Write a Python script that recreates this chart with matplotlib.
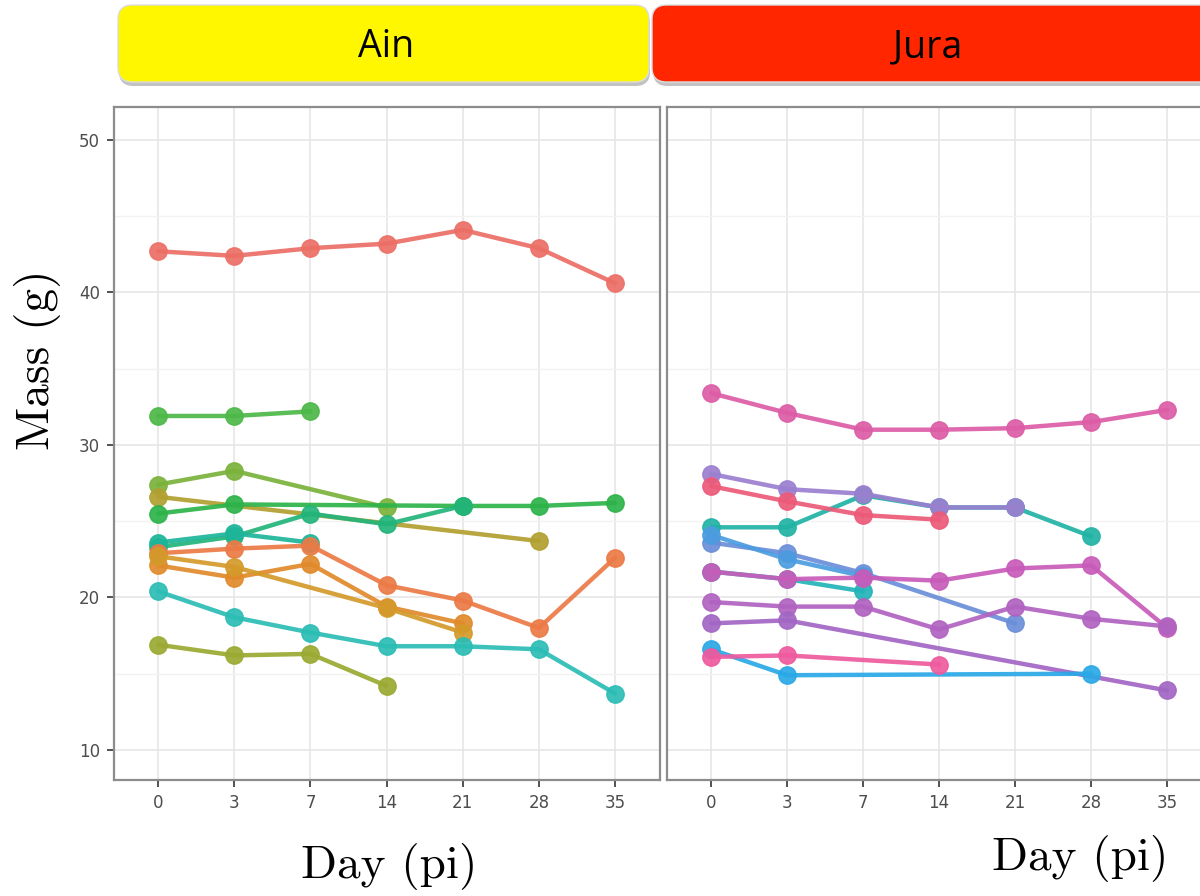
import numpy as np
import matplotlib
matplotlib.use("Agg")
from matplotlib import pyplot as plt
from matplotlib.patches import FancyBboxPatch

nan = np.nan

# categories on the x axis (days post infection)
days = ["0", "3", "7", "14", "21", "28", "35"]

# Ain panel: one list per animal, nan where not weighed
ain_series = [
    [42.7, 42.4, 42.9, 43.2, 44.1, 42.9, 40.6],
    [31.9, 31.9, 32.2, nan, nan, nan, nan],
    [27.4, 28.3, nan, 25.9, nan, nan, nan],
    [26.6, nan, nan, nan, nan, 23.7, nan],
    [25.5, 26.1, nan, nan, 26.0, 26.0, 26.2],
    [23.3, 24.0, 25.5, 24.8, 26.0, nan, nan],
    [23.6, 24.2, 23.6, nan, nan, nan, nan],
    [22.9, 23.2, 23.4, 20.8, 19.8, 18.0, 22.6],
    [22.1, 21.3, 22.2, 19.4, 18.3, nan, nan],
    [22.7, 22.0, nan, 19.3, 17.7, nan, nan],
    [20.4, 18.7, 17.7, 16.8, 16.8, 16.6, 13.7],
    [16.9, 16.2, 16.3, 14.2, nan, nan, nan],
]
ain_colors = ["#EC6F66", "#4DB848", "#7AB23A", "#B2A030", "#2DB34A", "#22B47A",
              "#1DB59A", "#EB7A45", "#E08A2A", "#D49A2A", "#2BBDB5", "#9AAA32"]

# Jura panel
jura_series = [
    [33.4, 32.1, 31.0, 31.0, 31.1, 31.5, 32.3],
    [24.6, 24.6, 26.7, 25.9, 25.9, 24.0, nan],
    [28.1, 27.1, 26.8, 25.9, 25.9, nan, nan],
    [27.3, 26.3, 25.4, 25.1, nan, nan, nan],
    [21.7, 21.2, 20.4, nan, nan, nan, nan],
    [23.6, 22.9, 21.6, nan, 18.3, nan, nan],
    [24.1, 22.5, 21.4, nan, nan, nan, nan],
    [21.7, 21.2, 21.3, 21.1, 21.9, 22.1, 18.0],
    [19.7, 19.4, 19.4, 17.9, 19.4, 18.6, 18.1],
    [18.3, 18.5, nan, nan, nan, nan, 13.9],
    [16.6, 14.9, nan, nan, nan, 15.0, nan],
    [16.1, 16.2, nan, 15.6, nan, nan, nan],
]
jura_colors = ["#DD5CA6", "#21B3A5", "#9B7FD0", "#EC5A78", "#22B3B8", "#6A8ED8",
               "#4C9CE0", "#C85BB9", "#B063C0", "#A266C4", "#2AA8E6", "#EE5A9E"]

panels = ["Ain", "Jura"]
panel_colors = ["#FFF700", "#FF2600"]

fig = plt.figure(figsize=(12, 8.96), dpi=100)

ax_left = fig.add_axes([114 / 1200, 116 / 896, 546 / 1200, 673 / 896])
ax_right = fig.add_axes([667 / 1200, 116 / 896, 545 / 1200, 673 / 896])

x = np.arange(len(days))
tick_font = ["Liberation Sans Narrow", "DejaVu Sans"]


def draw_panel(ax, series, colors):
    for vals, col in zip(series, colors):
        vals = np.array(vals, dtype=float)
        ok = ~np.isnan(vals)
        ax.plot(x[ok], vals[ok], color=col, lw=3.2, marker="o", ms=12.5,
                alpha=0.92, solid_capstyle="round")
    ax.set_xlim(-0.58, 6.59)
    ax.set_ylim(8.03, 52.16)
    ax.set_xticks(x)
    ax.set_xticklabels(days, family=tick_font)
    ax.set_yticks([10, 20, 30, 40, 50])
    ax.set_yticklabels(["10", "20", "30", "40", "50"], family=tick_font)
    ax.set_yticks([15, 25, 35, 45], minor=True)
    ax.grid(True, which="major", color="#E6E6E6", lw=1.2)
    ax.grid(True, which="minor", axis="y", color="#F2F2F2", lw=1.0)
    ax.set_axisbelow(True)
    for s in ax.spines.values():
        s.set_color("#8C8C8C")
        s.set_linewidth(1.6)
    ax.tick_params(axis="both", which="major", length=5, width=1.3,
                   color="#444444", labelcolor="#4D4D4D", labelsize=12, pad=5)
    ax.tick_params(axis="y", which="minor", length=0)


draw_panel(ax_left, ain_series, ain_colors)
draw_panel(ax_right, jura_series, jura_colors)
ax_right.tick_params(axis="y", which="both", left=False, labelleft=False)

# strip headers with a soft shadow
boxes = [(118, 649), (652, 1215)]
for (x0, x1), name, col in zip(boxes, panels, panel_colors):
    w = (x1 - x0) / 1200
    h = 77 / 896
    bx = x0 / 1200
    by = 1 - 82 / 896
    shadow = FancyBboxPatch((bx + 1 / 1200, by - 4 / 896), w, h,
                            boxstyle="round,pad=0,rounding_size=0.012",
                            transform=fig.transFigure, fc="#9A9A9A", ec="none",
                            alpha=0.6, mutation_aspect=1.34)
    fig.add_artist(shadow)
    box = FancyBboxPatch((bx, by), w, h,
                         boxstyle="round,pad=0,rounding_size=0.012",
                         transform=fig.transFigure, fc=col, ec="#DDDDDD", lw=1,
                         mutation_aspect=1.34)
    fig.add_artist(box)

fig.text(386 / 1200, 1 - 47 / 896, "Ain", ha="center", va="center",
         fontsize=27, family="Open Sans")
fig.text(928 / 1200, 1 - 47 / 896, "Jura", ha="center", va="center",
         fontsize=27, family="Open Sans")

fig.text(38 / 1200, 1 - 360 / 896, "Mass (g)", rotation=90, ha="center",
         va="center", fontsize=34, family="cmr10")
fig.text(389 / 1200, 1 - 866 / 896, "Day (pi)", ha="center", va="center",
         fontsize=34, family="cmr10")
fig.text(1080 / 1200, 1 - 858 / 896, "Day (pi)", ha="center", va="center",
         fontsize=34, family="cmr10")

plt.savefig("out.png", dpi=100)
